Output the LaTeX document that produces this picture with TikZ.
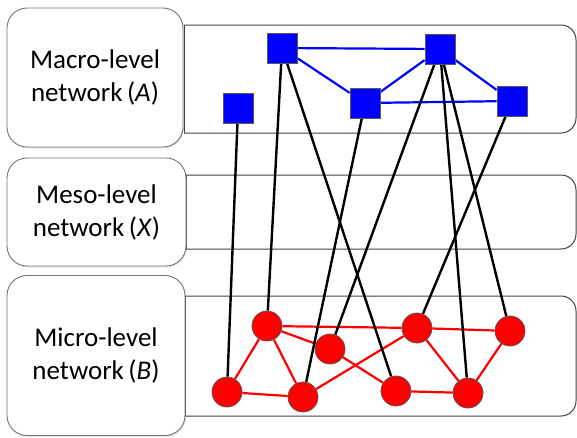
\documentclass[tikz,border=0pt]{standalone}
\usepackage{fontspec}
\newfontfamily\labelfont{Carlito}
\usetikzlibrary{shadows}
\pgfdeclarelayer{panel}
\pgfdeclarelayer{edges}
\pgfsetlayers{panel,edges,main}

\tikzset{
  levelbox/.style={draw=black!55, line width=0.9pt, fill=white, rounded corners=20pt,
    align=center, inner sep=0pt, font=\labelfont\fontsize{27}{33}\selectfont,
    drop shadow={shadow xshift=1pt, shadow yshift=-1.5pt, opacity=0.2}},
  panel/.style={draw=black!75, line width=1pt},
  macronode/.style={draw=black!65, line width=0.8pt, fill=blue, minimum size=30pt, inner sep=0pt},
  micronode/.style={circle, draw=black!65, line width=0.8pt, fill=red, minimum size=30pt, inner sep=0pt},
  macroedge/.style={blue, line width=2.2pt},
  microedge/.style={red, line width=2.2pt},
  interedge/.style={black, line width=2.4pt}
}

\begin{document}
\begin{tikzpicture}[x=1pt,y=-1pt]
\useasboundingbox (0,0) rectangle (577,437);

% level panels
\begin{pgfonlayer}{panel}
\draw[panel, rounded corners=15pt] (184,25) -- (576,25) -- (576,133) -- (184,133);
\draw[panel] (184,25) -- (184,133);
\draw[panel, rounded corners=15pt] (186,175) -- (576,175) -- (576,249) -- (186,249);
\draw[panel] (186,175) -- (186,249);
\draw[panel, rounded corners=15pt] (185,296) -- (576,296) -- (576,416) -- (185,416);
\draw[panel] (185,296) -- (185,416);
\end{pgfonlayer}

% level labels
\node[levelbox, minimum width=176pt, minimum height=139pt] (macro) at (95,77.5)
  {Macro-level\\network\,(\textit{A})};
\node[levelbox, minimum width=179pt, minimum height=108pt] (meso) at (96.5,212)
  {Meso-level\\network\,(\textit{X})};
\node[levelbox, minimum width=178pt, minimum height=160pt] (micro) at (96,355.5)
  {Micro-level\\network\,(\textit{B})};

% macro-level network A
\node[macronode] (a1) at (238,108) {};
\node[macronode] (a2) at (282,48) {};
\node[macronode] (a3) at (365,103) {};
\node[macronode] (a4) at (440,49) {};
\node[macronode] (a5) at (512,101) {};

% micro-level network B
\node[micronode] (b1) at (227,392) {};
\node[micronode] (b2) at (267,326) {};
\node[micronode] (b3) at (330,349) {};
\node[micronode] (b4) at (303,397) {};
\node[micronode] (b5) at (417,328) {};
\node[micronode] (b6) at (396,391) {};
\node[micronode] (b7) at (510,331) {};
\node[micronode] (b8) at (468,393) {};

\begin{pgfonlayer}{edges}
\foreach \u/\v in {a2/a4, a2/a3, a3/a4, a4/a5, a3/a5}
  \draw[macroedge] (\u) -- (\v);
\foreach \u/\v in {b1/b2, b1/b4, b2/b3, b2/b4, b2/b5, b3/b6, b4/b5, b5/b7, b5/b8, b6/b8, b7/b8}
  \draw[microedge] (\u) -- (\v);
\foreach \u/\v in {a1/b1, a2/b2, a2/b6, a3/b4, a4/b3, a4/b8, a4/b7, a5/b5}
  \draw[interedge] (\u) -- (\v);
\end{pgfonlayer}
\end{tikzpicture}
\end{document}
